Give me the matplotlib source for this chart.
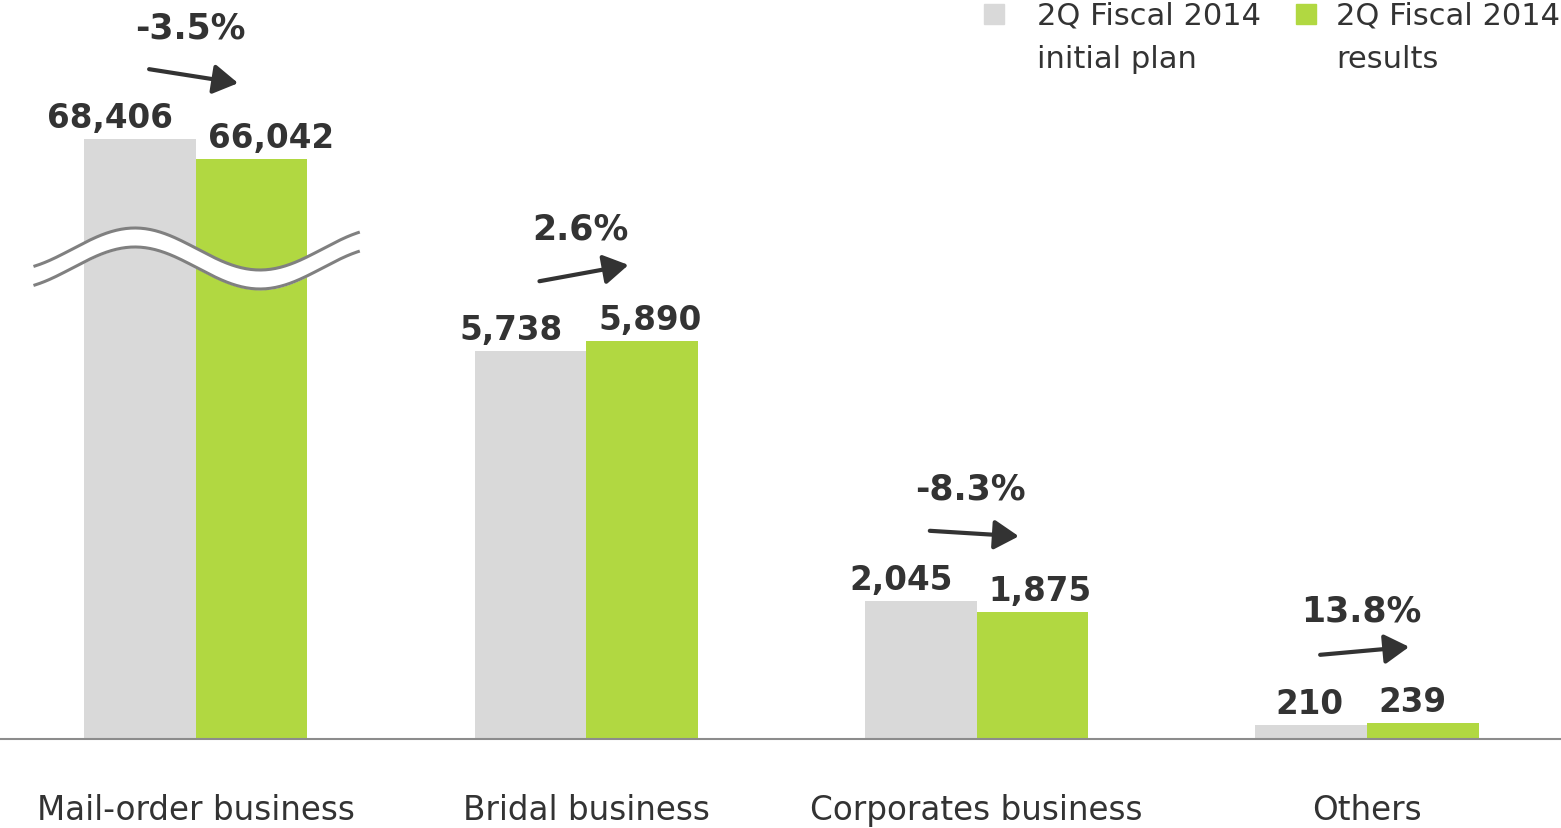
import numpy as np
import matplotlib
matplotlib.use("Agg")
from matplotlib import pyplot as plt
from matplotlib import transforms
from matplotlib.patches import Rectangle

CATEGORIES = ["Mail-order business", "Bridal business", "Corporates business", "Others"]
PLAN = [68406, 5738, 2045, 210]
RESULTS = [66042, 5890, 1875, 239]
CHANGE = ["-3.5%", "2.6%", "-8.3%", "13.8%"]
LEGEND_LABELS = ["2Q Fiscal 2014\ninitial plan", "2Q Fiscal 2014\nresults"]

GRAY = "#D9D9D9"
GREEN = "#B1D841"
TEXT = "#333333"

# broken y axis: values between CUT_FROM and CUT_TO are cut out,
# everything above CUT_TO is squeezed
CUT_FROM, CUT_TO, SQUEEZE = 7700, 59000, 0.125


def forward(v):
    v = np.asarray(v, dtype=float)
    return np.where(v <= CUT_FROM, v,
                    np.where(v >= CUT_TO, CUT_FROM + (v - CUT_TO) * SQUEEZE, CUT_FROM))


def inverse(s):
    s = np.asarray(s, dtype=float)
    return np.where(s <= CUT_FROM, s, CUT_TO + (s - CUT_FROM) / SQUEEZE)


W, H, DPI = 1561, 829, 100
fig = plt.figure(figsize=(W / DPI, H / DPI), dpi=DPI)
ax = fig.add_axes([0, 89 / H, 1, 740 / H])
ax.set_yscale("function", functions=(forward, inverse))

x = np.arange(len(CATEGORIES))
bw = 0.2857
ax.bar(x - bw / 2, PLAN, bw, color=GRAY, zorder=2)
ax.bar(x + bw / 2, RESULTS, bw, color=GREEN, zorder=2)

ax.set_xlim(-0.502, 3.497)
ax.set_ylim(0, 85000)
for s in ["left", "right", "top"]:
    ax.spines[s].set_visible(False)
ax.spines["bottom"].set_color("#8C8C8C")
ax.spines["bottom"].set_linewidth(1.5)
ax.set_xticks([])
ax.set_yticks([])
ax.minorticks_off()

px = 72 / DPI  # points per pixel
for i in range(len(CATEGORIES)):
    ax.annotate(f"{PLAN[i]:,}", (x[i] - 0.06, PLAN[i]), xytext=(0, 12 * px),
                textcoords="offset points", ha="right", va="baseline",
                fontsize=23.5, fontweight="bold", color=TEXT)
    ax.annotate(f"{RESULTS[i]:,}", (x[i] + 0.03, RESULTS[i]), xytext=(0, 12 * px),
                textcoords="offset points", ha="left", va="baseline",
                fontsize=23.5, fontweight="bold", color=TEXT)
    # arrow from plan to results
    start = transforms.offset_copy(ax.transData, fig, x=0, y=70 * px, units="points")
    end = transforms.offset_copy(ax.transData, fig, x=0, y=76 * px, units="points")
    ax.annotate("", xy=(x[i] + 0.108, RESULTS[i]), xycoords=end,
                xytext=(x[i] - 0.12, PLAN[i]), textcoords=start,
                arrowprops=dict(arrowstyle="-|>,head_length=0.75,head_width=0.45",
                                mutation_scale=20, color=TEXT, lw=3,
                                shrinkA=0, shrinkB=0))
    ax.annotate(CHANGE[i], (x[i], max(PLAN[i], RESULTS[i])), xytext=(-6 * px, 102 * px),
                textcoords="offset points", ha="center", va="baseline",
                fontsize=25, fontweight="bold", color=TEXT)
    ax.text(x[i], -80 / 740, CATEGORIES[i], transform=ax.get_xaxis_transform(),
            ha="center", va="baseline", fontsize=23.5, color=TEXT)

# wavy break marks across the first group
wx = np.linspace(-0.4125, 0.416, 200)
wpx = wx * 390.3 + 196
upper = 250 - 21 * np.cos(2 * np.pi * (wpx - 135) / 250)
lower = upper + 19
trans = ax.get_xaxis_transform()
ax.fill_between(wx, (740 - upper) / 740, (740 - lower) / 740, color="white",
                transform=trans, zorder=3)
ax.plot(wx, (740 - upper) / 740, color="#808080", lw=2.2, transform=trans, zorder=4)
ax.plot(wx, (740 - lower) / 740, color="#808080", lw=2.2, transform=trans, zorder=4)

# legend
for sx, tx, col, lab in [(984, 1037, GRAY, LEGEND_LABELS[0]),
                         (1296, 1336, GREEN, LEGEND_LABELS[1])]:
    fig.patches.append(Rectangle((sx / W, (H - 25) / H), 20 / W, 20 / H,
                                 transform=fig.transFigure, color=col))
    fig.text(tx / W, (H - 2) / H, lab, ha="left", va="top", fontsize=22,
             color=TEXT, linespacing=1.6)

fig.savefig("out.png", dpi=DPI)
